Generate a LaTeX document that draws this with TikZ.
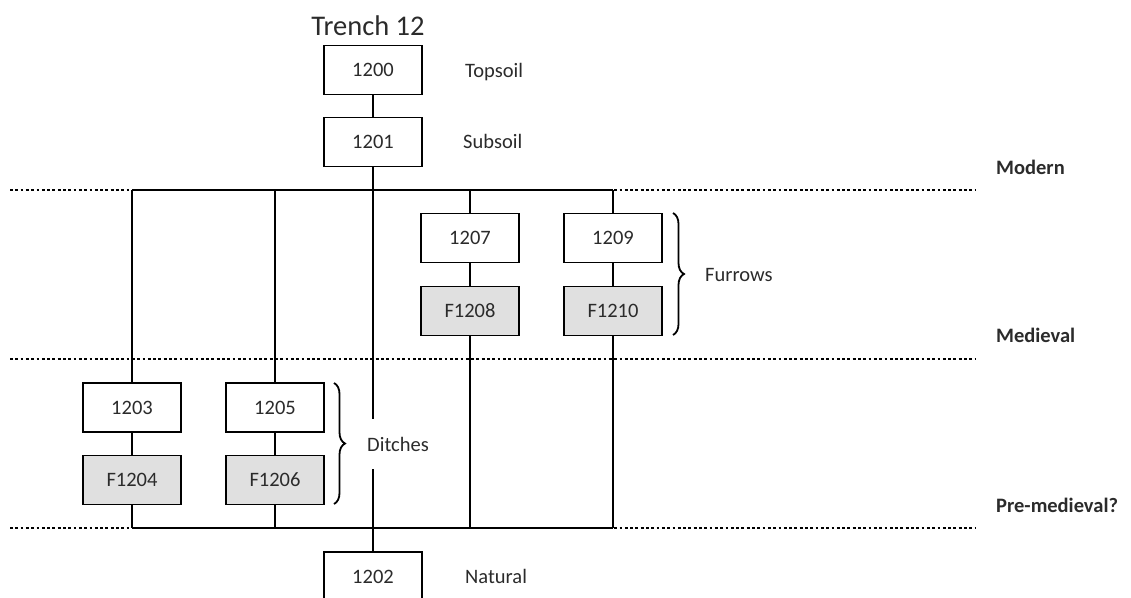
\documentclass[tikz,border=0pt]{standalone}
\usepackage{fontspec}
\setmainfont{Carlito}
\usetikzlibrary{decorations.pathreplacing}
\definecolor{txt}{HTML}{2B2B2B}
\definecolor{fgray}{HTML}{E0E0E0}
\tikzset{
  ctxbox/.style={draw=black, line width=1.8pt, minimum width=98pt, minimum height=49pt, inner sep=0pt, fill=white, text=txt, font=\fontsize{20.5}{24}\selectfont},
  featbox/.style={ctxbox, fill=fgray},
  conn/.style={line width=1.7pt, black},
  phase/.style={line width=2.8pt, dash pattern=on 2.8pt off 2.5pt, black},
  lbl/.style={anchor=base west, text=txt, inner sep=0pt, font=\fontsize{20.5}{24}\selectfont},
  period/.style={anchor=base west, text=txt, inner sep=0pt, font=\fontsize{20.5}{24}\selectfont\bfseries},
  brc/.style={decorate, decoration={brace, amplitude=11pt}, line width=1.8pt, black}
}
\begin{document}
\begin{tikzpicture}[x=1pt, y=-1pt]
\useasboundingbox (0,0) rectangle (1131,597);
% phase lines
\coordinate (m0) at (10,190); \coordinate (m1) at (975,190);
\coordinate (d0) at (10,359); \coordinate (d1) at (975,359);
\coordinate (p0) at (10,528); \coordinate (p1) at (975,528);
\draw[phase] (m0) -- (m1);
\draw[phase] (d0) -- (d1);
\draw[phase] (p0) -- (p1);
% title
\node[text=txt, font=\fontsize{28.5}{32}\selectfont, anchor=base] (title) at (368,35) {Trench 12};
% boxes
\node[ctxbox] (c1200) at (373,70) {1200};
\node[ctxbox] (c1201) at (373,142) {1201};
\node[ctxbox] (c1202) at (373,576.5) {1202};
\node[ctxbox] (c1203) at (132,407.5) {1203};
\node[featbox] (f1204) at (132,480) {F1204};
\node[ctxbox] (c1205) at (275,407.5) {1205};
\node[featbox] (f1206) at (275,480) {F1206};
\node[ctxbox] (c1207) at (470,238) {1207};
\node[featbox] (f1208) at (470,311) {F1208};
\node[ctxbox] (c1209) at (613,238) {1209};
\node[featbox] (f1210) at (613,311) {F1210};
% junction coordinates
\coordinate (t3) at (132,190); \coordinate (t5) at (275,190);
\coordinate (t7) at (470,190); \coordinate (t9) at (613,190);
\coordinate (b3) at (132,528); \coordinate (b5) at (275,528);
\coordinate (b8) at (470,528); \coordinate (b10) at (613,528);
% connectors
\draw[conn] (c1200) -- (c1201);
\draw[conn] (c1201) -- (c1202);
\draw[conn] (t3) -- (t9);
\draw[conn] (b3) -- (b10);
\draw[conn] (t3) -- (c1203);
\draw[conn] (t5) -- (c1205);
\draw[conn] (t7) -- (c1207);
\draw[conn] (t9) -- (c1209);
\draw[conn] (c1203) -- (f1204);
\draw[conn] (c1205) -- (f1206);
\draw[conn] (c1207) -- (f1208);
\draw[conn] (c1209) -- (f1210);
\draw[conn] (f1204) -- (b3);
\draw[conn] (f1206) -- (b5);
\draw[conn] (f1208) -- (b8);
\draw[conn] (f1210) -- (b10);
% side labels
\node[lbl] (ltop) at (465,77) {Topsoil};
\node[lbl] (lsub) at (463,148) {Subsoil};
\node[lbl] (lnat) at (465,583) {Natural};
\node[period] (pmod) at (996,174) {Modern};
\node[period] (pmed) at (996,342) {Medieval};
\node[period] (ppre) at (996,512) {Pre-medieval?};
% braces
\coordinate (fb0) at (673,213); \coordinate (fb1) at (673,335);
\draw[brc] (fb0) -- (fb1);
\node[lbl] (lfur) at (705,281) {Furrows};
\coordinate (db0) at (334,383); \coordinate (db1) at (334,504);
\draw[brc] (db0) -- (db1);
\node[fill=white, text=txt, font=\fontsize{20.5}{24}\selectfont, minimum height=50pt, inner xsep=8pt, anchor=west] (ldit) at (359,444) {Ditches};
\end{tikzpicture}
\end{document}
